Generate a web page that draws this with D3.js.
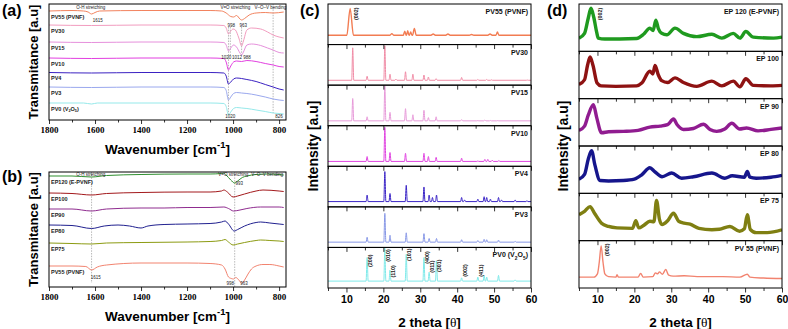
<!DOCTYPE html>
<html><head><meta charset="utf-8">
<script src="https://cdn.jsdelivr.net/npm/d3@7"></script>
<style>body{margin:0;background:#fff}svg{display:block}</style>
</head><body>
<svg id="chart" width="788" height="329"></svg>
<script>
// ================= DATA =================
// ---- Panel (a): FTIR, [wavenumber cm-1, transmittance (offset, a.u.)]
const ftirA_names = ["PV55 (PVNF)", "PV30", "PV15", "PV10", "PV4", "PV3", "PV0 (V_{2}O_{5})"];
const ftirA_PV55 = [[1800,109],[1700,109.5],[1650,109],[1630,108],[1615,106],[1600,107.5],[1580,109],[1400,109.5],[1200,109.5],[1100,109.5],[1050,109],[1030,107],[1010,103.5],[998,103],[985,104.5],[970,101],[963,100],[950,101.5],[930,105],[900,107],[860,107.5],[826,107],[780,108]];
const ftirA_PV30 = [[1800,95],[1615,94.5],[1400,95],[1100,95],[1040,94.5],[1030,92],[1020,86],[1010,89],[1000,91],[990,90],[975,82],[963,74],[955,79],[940,90],[920,92],[880,91],[850,88],[826,85],[800,83],[780,82]];
const ftirA_PV15 = [[1800,78],[1615,77.5],[1400,78],[1100,78],[1040,77.5],[1030,75],[1020,69],[1010,72],[998,75],[985,73],[970,67],[963,65],[955,68],[940,75],[920,76],[880,74.5],[850,72],[826,70],[800,67.5],[780,67]];
const ftirA_PV10 = [[1800,62],[1615,61.5],[1400,62],[1100,62],[1040,61.5],[1030,58],[1020,50],[1010,54],[998,58],[985,59],[963,58.5],[940,59.5],[900,58.5],[860,56.5],[826,55],[800,53.5],[780,53]];
const ftirA_PV4  = [[1800,47.5],[1615,47],[1400,47.5],[1100,47.5],[1040,47],[1030,44],[1020,36],[1010,38],[998,41],[985,42],[963,41.5],[940,40.5],[900,38.5],[860,35.5],[826,33],[800,31],[780,30]];
const ftirA_PV3  = [[1800,33],[1615,32.5],[1400,33],[1100,33],[1040,32.5],[1030,29.5],[1020,20],[1010,23],[998,26.5],[985,27.5],[963,27],[940,26.5],[900,25],[860,23],[826,21],[800,20],[780,19.5]];
const ftirA_PV0  = [[1800,17],[1650,17],[1615,16],[1590,17],[1400,17],[1100,17],[1040,16.5],[1030,13.5],[1020,5],[1010,8],[998,11.5],[985,12.5],[963,12],[940,11.5],[900,10],[860,8.5],[826,7],[800,6.5],[780,6]];
// annotation notes (text, wavenumber, level) and marker lines (wavenumber, from, to)
const ftirA_notes = [["O-H stretching",1618,111],["V=O stretching",990,111],["V–O–V bending",838,111],["1615",1588,98],["998",1008,93],["963",956,93],["1020",1030,61],["1012",983,61],["988",940,61],["1020",1012,2],["826",800,2]];
const ftirA_marks = [[1020,93,6],[1012,93,64],[963,93,64],[826,116,7]];

// ---- Panel (b): FTIR
const ftirB_names = ["EP120 (E-PVNF)", "EP100", "EP90", "EP80", "EP75", "PV55 (PVNF)"];
const ftirB_EP120 = [[1800,111],[1700,111],[1615,110],[1550,111.5],[1400,112.5],[1200,113],[1100,113],[1050,113.5],[1040,114],[1030,112],[1010,107],[993,104],[980,106],[960,109.5],[940,111],[900,112.5],[850,113],[800,112.5],[780,112]];
const ftirB_EP100 = [[1800,94],[1700,93.5],[1615,92],[1550,93.5],[1400,94.5],[1200,95],[1100,95],[1050,96],[1040,97],[1025,95],[1000,90],[980,91],[950,93],[900,96],[870,97],[800,96],[780,95.5]];
const ftirB_EP90  = [[1800,78],[1700,78],[1615,76],[1550,78],[1400,79],[1300,79],[1200,79.5],[1100,79.5],[1040,80],[1020,78.5],[998,76],[970,77],[940,78.5],[880,80],[800,80],[780,79.5]];
const ftirB_EP80  = [[1800,62],[1700,61.5],[1615,58.5],[1560,61],[1500,62],[1450,61],[1400,59],[1370,61],[1300,62.5],[1200,63],[1100,63.5],[1050,65],[1035,66],[1020,63],[995,56],[980,57.5],[950,61],[900,64.5],[880,65],[840,64],[800,63],[780,62.5]];
const ftirB_EP75  = [[1800,44],[1700,43.5],[1615,43],[1550,44],[1400,44.5],[1200,45],[1100,45.5],[1050,46.5],[1035,47.5],[1020,45],[1000,42],[980,43],[950,44.5],[900,46.5],[880,47],[840,46.5],[800,46],[780,45.5]];
const ftirB_PV55  = [[1800,21],[1700,21],[1640,20.5],[1615,17],[1590,20],[1550,22],[1400,24],[1200,24],[1100,23.5],[1050,22],[1035,18],[1020,10],[1008,8.5],[998,8],[988,9.5],[975,7],[963,4],[950,7],[935,13],[920,18],[900,21],[870,22.5],[840,22.5],[800,21],[780,20]];
const ftirB_notes = [["O-H stretching",1618,111],["V=O stretching",999,111],["V–O–V bending",852,111],["993",973,102],["1615",1597,8],["998",1012,2],["963",952,2]];
const ftirB_marks = [[1615,115,4],[993,115,0]];

const ftirTicks = [1800,1600,1400,1200,1000,800];
const ftirMinor = [1700,1500,1300,1100,900];

// ---- Panel (c): XRD peaks [2theta, intensity (% of sub-panel), half width]
const xrdC_names = ["PV55 (PVNF)", "PV30", "PV15", "PV10", "PV4", "PV3", "PV0 (V_{2}O_{5})"];
const xrdC_base = [23, 12, 12, 12, 13, 13, 17];
const xrdC_PV55 = [[11.0,89,0.9],[22.3,27,0.5],[25.8,33,0.4],[26.6,34,0.35],[27.4,31,0.35],[28.4,40,0.5],[33.5,26,0.6],[37.5,26,0.6],[43.9,25,0.6],[48.9,26,0.6],[50.9,31,0.4]];
const xrdC_PV30 = [[11.7,92],[15.6,22],[20.4,97],[21.8,27],[23.4,15],[26.0,33],[28.0,27],[31.0,25],[32.2,20],[34.3,16],[41.2,19],[45.6,14],[48.0,14],[49.3,13],[59.0,12.5]];
const xrdC_PV15 = [[11.7,67],[15.6,22],[20.4,98],[21.8,33],[26.0,42],[28.0,27],[31.0,38],[32.2,20],[34.3,22],[41.2,15],[45.6,12.5],[47.5,14],[49.0,13],[51.0,12.5]];
const xrdC_PV10 = [[15.6,24],[20.4,96],[21.8,34],[26.0,32],[31.0,32],[32.2,24],[34.3,22],[41.2,20],[45.6,13],[47.5,17],[48.3,17],[49.5,15],[51.3,14]];
const xrdC_PV4  = [[15.6,29],[20.4,87],[21.8,33],[26.2,53],[31.0,49],[32.4,29],[33.3,23],[34.4,29],[41.2,23],[42.0,17],[45.6,19],[47.3,25],[48.0,23],[49.0,19],[51.2,23],[52.0,17],[55.7,17],[58.9,15]];
const xrdC_PV3  = [[15.6,25],[20.4,84],[21.8,30],[26.2,36],[31.0,34],[32.4,22],[34.4,22],[41.2,19],[45.6,17],[47.3,20],[48.0,19],[51.2,18],[55.7,15]];
const xrdC_PV0  = [[15.6,75],[20.4,98],[21.8,44],[26.2,83],[31.0,75],[32.4,39],[34.4,67],[41.2,25],[45.6,27],[47.3,31],[48.0,27],[51.2,31],[55.7,20]];
const xrdC_hkl  = [["(200)",15.6,67],["(010)",20.4,80],["(110)",21.8,41],["(101)",26.2,82],["(400)",31.0,75],["(011)",32.4,53],["(301)",34.4,55],["(002)",41.2,43],["(411)",45.6,43]];
const xrdC_topHkl = [["(002)",11.0,76]];

// ---- Panel (d): XRD profiles [2theta, intensity (% of sub-panel)]
const xrdD_names = ["EP 120 (E-PVNF)", "EP 100", "EP 90", "EP 80", "EP 75", "PV 55 (PVNF)"];
const xrdD_EP120 = [[5,28],[6.5,38],[7.5,70],[8.25,91],[9,72],[9.8,40],[10.2,28],[12,26],[16,26],[20.6,27],[22.5,36],[24.2,49],[25.1,44],[25.8,66],[26.5,48],[27.4,38],[28.8,35],[31.0,49],[33.3,38],[36.9,31],[41.0,36],[43.7,28],[46.8,38],[48.6,28],[50.2,42],[52.2,30],[57.7,28],[60,30]];
const xrdD_EP100 = [[5,30],[6.5,40],[7.3,70],[8.0,88],[8.8,70],[9.9,33],[11,27],[15,26],[20.6,27],[22,33],[24.2,58],[25.0,52],[25.6,70],[26.5,50],[27.4,38],[29,34],[31,44],[33.3,34],[36.9,26],[41,37],[43.7,27],[46.8,37],[48.6,25],[50.2,42],[52.2,28],[57,27],[60,28]];
const xrdD_EP90  = [[5,33],[6.5,42],[7.5,65],[8.9,87],[9.8,60],[11.1,28],[13,30],[17,31],[21,33],[24.2,40],[27,42],[29,45],[30.6,57],[31.6,45],[33.3,35],[36,37],[38.7,46],[40.5,35],[42.3,31],[44.5,36],[46.4,48],[48.5,36],[50.4,38],[53.5,32],[57,35],[60,38]];
const xrdD_EP80  = [[5,30],[6.5,40],[7.5,72],[8.4,90],[9.3,60],[10.7,27],[13,26],[17,27],[20,30],[22,39],[24.2,54],[25.5,46],[27.5,35],[30.1,43],[32.8,32],[36,35],[41,43],[44.5,32],[46.5,37],[49.8,34],[50.6,46],[51.3,34],[53,32],[57,34],[60,38]];
const xrdD_EP75  = [[5,55],[6.5,62],[8.0,72],[9.2,58],[11.1,37],[13,30],[15.3,27],[19.5,26],[20.4,42],[21.2,27],[22.5,32],[24.2,41],[25.3,40],[26.0,85],[26.8,45],[27.5,34],[29,42],[30.6,58],[32,41],[33.5,37],[35.1,35],[37.5,26],[41,23],[43,24],[45.9,30],[48.5,20],[49.8,25],[50.6,55],[51.4,24],[53,17],[56,17],[60,23]];
const xrdD_PV55  = [[5,23],[9,23],[10,30],[10.5,55],[11.0,89],[11.5,55],[12,30],[13,24],[15.0,23],[15.3,28],[15.7,23],[21,23],[21.7,31],[22.4,23],[25.0,24],[25.7,32],[26.3,30],[26.8,34],[27.6,29],[28.5,39],[29.3,27],[30.5,25],[33.5,26],[37,24],[41,24],[44,24],[48.6,23],[50.6,29],[51.3,23],[55,21],[60,20]];
const xrdD_hkl = [["(002)",8.25,79],["(002)",11.0,81]];

const xrdTicks = [10,20,30,40,50,60];
const xrdMinor = [5,15,25,35,45,55];

// ================= STYLE / LAYOUT =================
const SANS = '"Liberation Sans", Arial, Helvetica, sans-serif';
const SERIF = '"Liberation Serif", "Times New Roman", serif';
const colA = ["#f2835f","#f29cbf","#e690dc","#e23fe0","#3b22c2","#9aa8ee","#95e9ea"];
const colB = ["#2f8f2f","#a3191c","#8f2c8f","#20208f","#8c9b12","#f2836f"];
const colC = ["#f27c52","#f08ca6","#e79ad9","#e044e0","#3a24c6","#8797e6","#7feaea"];
const colD = ["#1f9a1f","#8e1212","#901c90","#16168c","#7f7f12","#f2836f"];
const PA = {x0:49, x1:286, y0:4, y1:120};
const PB = {x0:49, x1:286, y0:172, y1:287};
const PC = {x0:328, x1:531, y0:4, y1:288};
const PD = {x0:579, x1:782, y0:4, y1:288};

const svg = d3.select("#chart");
let clipN = 0;

function rich(sel, str, fs) {
  const parts = str.split(/([_^]\{[^}]*\})/).filter(s => s.length);
  let cur = 0;
  parts.forEach(p => {
    let target = 0, txt = p, size = fs;
    if (p[0] === "_" && p[1] === "{") { target = 0.3*fs; txt = p.slice(2,-1); size = fs*0.7; }
    else if (p[0] === "^" && p[1] === "{") { target = -0.42*fs; txt = p.slice(2,-1); size = fs*0.7; }
    sel.append("tspan").attr("dy", target - cur).attr("font-size", size).text(txt);
    cur = target;
  });
}
function addClip(x, y, w, h) {
  const id = "clip" + (clipN++);
  svg.append("clipPath").attr("id", id).append("rect").attr("x", x).attr("y", y).attr("width", w).attr("height", h);
  return "url(#" + id + ")";
}
function styleAxis(ga, family, size) {
  ga.select(".domain").remove();
  ga.selectAll("line").attr("stroke", "#000").attr("stroke-width", 0.8);
  ga.selectAll("text").attr("font-family", family).attr("font-weight", "bold").attr("font-size", size).attr("fill", "#000");
}

function ftirPanel(P, names, series, colors, yMax, notes, marks, tag, tagY) {
  const x = d3.scaleLinear().domain([1800, 770]).range([P.x0, P.x1]);
  const y = d3.scaleLinear().domain([0, yMax]).range([P.y1, P.y0]);
  const g = svg.append("g");
  const clip = addClip(P.x0, P.y0, P.x1 - P.x0, P.y1 - P.y0);
  marks.forEach(m => g.append("line").attr("x1", x(m[0])).attr("x2", x(m[0]))
    .attr("y1", y(m[1])).attr("y2", y(m[2])).attr("stroke", "#8a8a8a")
    .attr("stroke-width", 0.6).attr("stroke-dasharray", "1.5,1.2"));
  const line = d3.line().x(d => x(d[0])).y(d => y(d[1])).curve(d3.curveMonotoneX);
  series.forEach((s, i) => {
    g.append("path").attr("d", line(s)).attr("fill", "none").attr("stroke", colors[i])
      .attr("stroke-width", 1).attr("clip-path", clip);
    const t = g.append("text").attr("x", P.x0 + 2).attr("y", y(s[0][1]) + 7.5)
      .attr("font-family", SANS).attr("font-weight", "bold").attr("font-size", 5.5).attr("fill", "#222");
    rich(t, names[i], 5.5);
  });
  notes.forEach(n => g.append("text").attr("x", x(n[1])).attr("y", y(n[2]))
    .attr("text-anchor", "middle").attr("font-family", SANS).attr("font-size", 4.5).attr("fill", "#222").text(n[0]));
  g.append("rect").attr("x", P.x0).attr("y", P.y0).attr("width", P.x1 - P.x0).attr("height", P.y1 - P.y0)
    .attr("fill", "none").attr("stroke", "#000").attr("stroke-width", 1);
  const ga = g.append("g").attr("transform", `translate(0,${P.y1})`)
    .call(d3.axisBottom(x).tickValues(ftirTicks).tickSize(4).tickPadding(3).tickFormat(d3.format("d")));
  styleAxis(ga, SERIF, 9);
  const gm = g.append("g").attr("transform", `translate(0,${P.y1})`)
    .call(d3.axisBottom(x).tickValues(ftirMinor).tickSize(2.5).tickFormat(""));
  styleAxis(gm, SERIF, 9);
  const xt = g.append("text").attr("x", (P.x0 + P.x1) / 2).attr("y", P.y1 + 34).attr("text-anchor", "middle")
    .attr("font-family", SANS).attr("font-weight", "bold").attr("font-size", 13.5);
  rich(xt, "Wavenumber [cm^{-1}]", 13.5);
  g.append("text").attr("transform", `translate(38,${(P.y0 + P.y1) / 2}) rotate(-90)`).attr("text-anchor", "middle")
    .attr("font-family", SANS).attr("font-weight", "bold").attr("font-size", 13).text("Transmitance [a.u]");
  g.append("text").attr("x", 2).attr("y", tagY).attr("font-family", SANS).attr("font-weight", "bold")
    .attr("font-size", 16).text(tag);
}

function stackPanel(P, names, series, colors, widths, tag, titleX, tagX) {
  const n = names.length, h = (P.y1 - P.y0) / n;
  const x = d3.scaleLinear().domain([5, 60]).range([P.x0, P.x1]);
  const g = svg.append("g");
  const line = d3.line().x(d => x(d[0])).curve(d3.curveMonotoneX);
  const ys = [];
  series.forEach((s, i) => {
    const top = P.y0 + i * h, bot = top + h;
    const y = d3.scaleLinear().domain([0, 100]).range([bot, top]);
    ys.push(y);
    const clip = addClip(P.x0, top, P.x1 - P.x0, h);
    g.append("path").attr("d", line.y(d => y(d[1]))(s)).attr("fill", "none").attr("stroke", colors[i])
      .attr("stroke-width", widths[i]).attr("stroke-linejoin", "round").attr("clip-path", clip);
    const t = g.append("text").attr("x", P.x1 - 3).attr("y", top + 10).attr("text-anchor", "end")
      .attr("font-family", SANS).attr("font-weight", "bold").attr("font-size", 7).attr("fill", "#111");
    rich(t, names[i], 7);
  });
  series.forEach((s, i) => {
    const top = P.y0 + i * h, bot = top + h;
    g.append("rect").attr("x", P.x0).attr("y", top).attr("width", P.x1 - P.x0).attr("height", h)
      .attr("fill", "none").attr("stroke", "#000").attr("stroke-width", 1);
    const last = i === n - 1;
    const ga = g.append("g").attr("transform", `translate(0,${bot})`)
      .call(d3.axisBottom(x).tickValues(xrdTicks).tickSize(4.5).tickPadding(3).tickFormat(last ? d3.format("d") : ""));
    styleAxis(ga, SANS, 10.5);
    const gm = g.append("g").attr("transform", `translate(0,${bot})`)
      .call(d3.axisBottom(x).tickValues(xrdMinor).tickSize(3).tickFormat(""));
    styleAxis(gm, SANS, 10);
  });
  const xt = g.append("text").attr("x", (P.x0 + P.x1) / 2).attr("y", P.y1 + 39).attr("text-anchor", "middle")
    .attr("font-family", SANS).attr("font-weight", "bold").attr("font-size", 13.5);
  xt.append("tspan").text("2 theta [");
  xt.append("tspan").attr("font-family", SERIF).attr("font-weight", "normal").text("θ");
  xt.append("tspan").text("]");
  g.append("text").attr("transform", `translate(${titleX},${(P.y0 + P.y1) / 2}) rotate(-90)`).attr("text-anchor", "middle")
    .attr("font-family", SANS).attr("font-weight", "bold").attr("font-size", 14).text("Intensity [a.u]");
  g.append("text").attr("x", tagX).attr("y", 16).attr("font-family", SANS).attr("font-weight", "bold")
    .attr("font-size", 16).text(tag);
  return {x, ys, g};
}
function hklLabels(ctx, idx, list, dx) {
  list.forEach(l => ctx.g.append("text")
    .attr("transform", `translate(${ctx.x(l[1]) + dx},${ctx.ys[idx](l[2])}) rotate(-90)`)
    .attr("text-anchor", "middle").attr("dy", "0.35em").attr("font-family", SANS).attr("font-weight", "bold")
    .attr("font-size", 5.4).attr("fill", "#222").text(l[0]));
}
function xrdPoints(base, peaks) {
  const pts = [[5, base]];
  peaks.forEach(p => { const w = p[2] || 0.28; pts.push([p[0] - w, base], [p[0], p[1]], [p[0] + w, base]); });
  pts.push([60, base]);
  return pts.sort((a, b) => a[0] - b[0]);
}

// ================= DRAW =================
ftirPanel(PA, ftirA_names, [ftirA_PV55, ftirA_PV30, ftirA_PV15, ftirA_PV10, ftirA_PV4, ftirA_PV3, ftirA_PV0],
  colA, 116, ftirA_notes, ftirA_marks, "(a)", 16);
ftirPanel(PB, ftirB_names, [ftirB_EP120, ftirB_EP100, ftirB_EP90, ftirB_EP80, ftirB_EP75, ftirB_PV55],
  colB, 115, ftirB_notes, ftirB_marks, "(b)", 182);

const cSeries = [xrdC_PV55, xrdC_PV30, xrdC_PV15, xrdC_PV10, xrdC_PV4, xrdC_PV3, xrdC_PV0]
  .map((pk, i) => xrdPoints(xrdC_base[i], pk));
const cCtx = stackPanel(PC, xrdC_names, cSeries, colC, [1.4, 1, 1, 1, 1, 1, 1], "(c)", 318, 300);
hklLabels(cCtx, 0, xrdC_topHkl, 6);
hklLabels(cCtx, 6, xrdC_hkl, 3);

const dCtx = stackPanel(PD, xrdD_names, [xrdD_EP120, xrdD_EP100, xrdD_EP90, xrdD_EP80, xrdD_EP75, xrdD_PV55],
  colD, [3.4, 3.4, 3.4, 3.4, 3.4, 1.4], "(d)", 568, 547);
hklLabels(dCtx, 0, [xrdD_hkl[0]], 9);
hklLabels(dCtx, 5, [xrdD_hkl[1]], 6);
</script>
</body></html>
